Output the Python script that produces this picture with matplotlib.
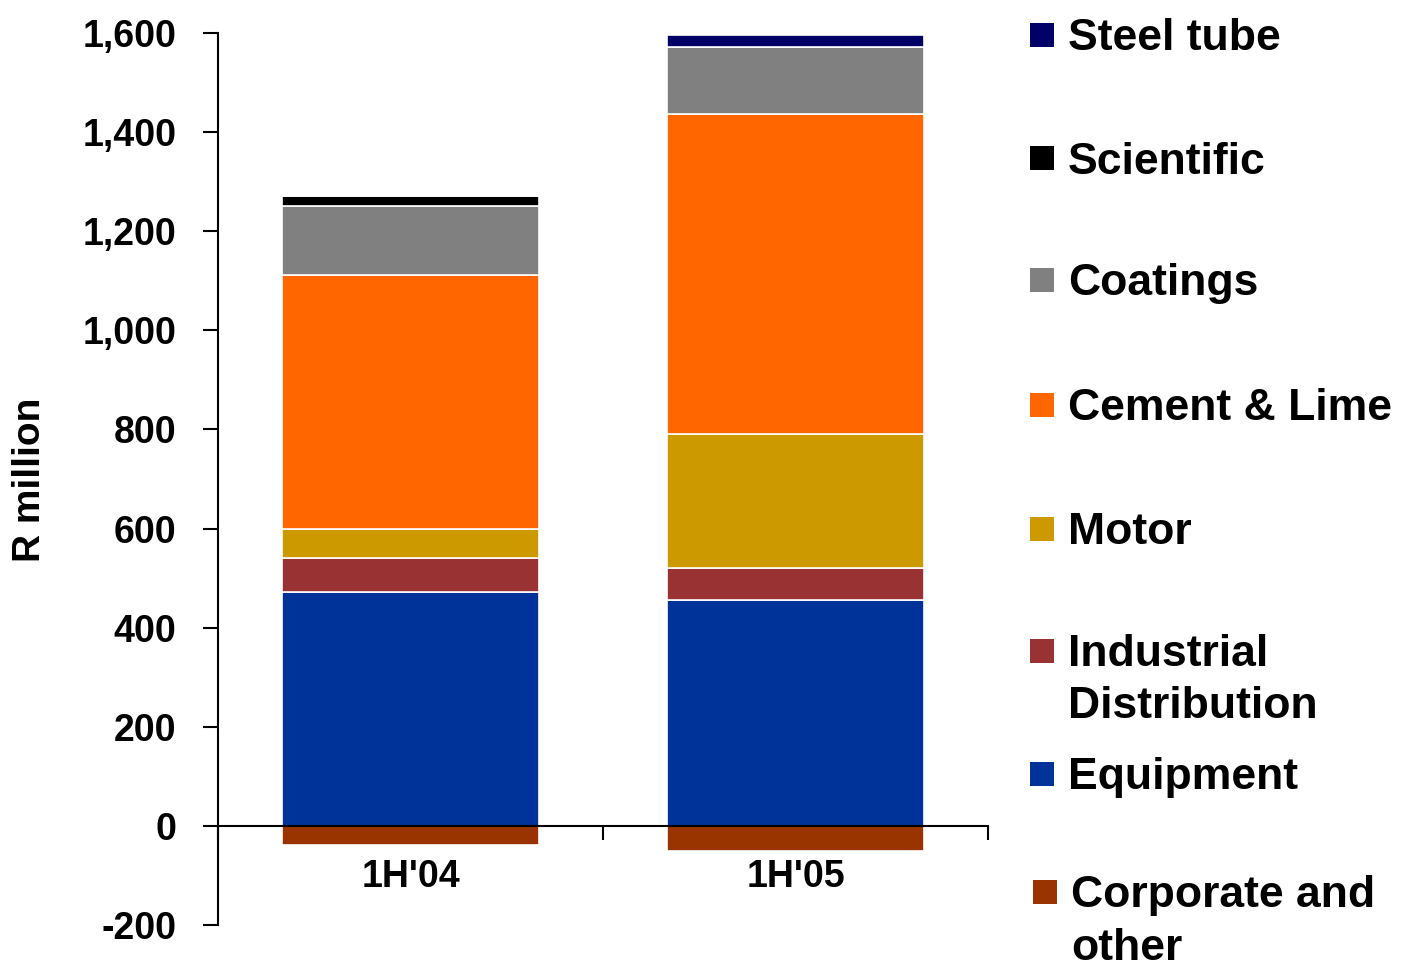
import numpy as np
import matplotlib.pyplot as plt
from matplotlib.patches import Rectangle
from matplotlib.ticker import FuncFormatter

plt.rcParams['font.family'] = ['Liberation Sans', 'DejaVu Sans']
plt.rcParams['font.weight'] = 'bold'

# Data (R million)
periods = ["1H'04", "1H'05"]
equipment = [472, 456]
industrial = [69, 65]
motor = [58, 270]
cement = [513, 646]
coatings = [139, 135]
scientific = [20, 0]
steel_tube = [0, 24]
corporate = [-38, -51]

series = [
    ("Equipment", equipment, "#003399"),
    ("Industrial Distribution", industrial, "#993333"),
    ("Motor", motor, "#CC9900"),
    ("Cement & Lime", cement, "#FF6600"),
    ("Coatings", coatings, "#808080"),
    ("Scientific", scientific, "#000000"),
    ("Steel tube", steel_tube, "#000066"),
]
corp_color = "#993300"

W, H = 1416, 961
fig = plt.figure(figsize=(W / 100, H / 100), dpi=100)
ax = fig.add_axes([218 / W, 1 - 925 / H, (988 - 218) / W, (925 - 33) / H])

x = np.arange(len(periods))
width = 0.665
bottom = np.zeros(len(periods))
for name, vals, col in series:
    ax.bar(x, vals, width, bottom=bottom, color=col, edgecolor="white", linewidth=1.2)
    bottom += np.array(vals)
ax.bar(x, corporate, width, color=corp_color, edgecolor="white", linewidth=1.2)

ax.set_xlim(-0.5, 1.5)
ax.set_ylim(-200, 1600)
ax.set_yticks(np.arange(-200, 1601, 200))
ax.yaxis.set_major_formatter(FuncFormatter(lambda v, p: f"{int(v):,}"))

for s in ["top", "right"]:
    ax.spines[s].set_visible(False)
ax.spines["bottom"].set_position(("data", 0))
ax.spines["left"].set_linewidth(1.5)
ax.spines["bottom"].set_linewidth(1.5)

ax.set_xticks(x)
ax.set_xticklabels(periods)
ax.set_xticks([-0.5, 0.5, 1.5], minor=True)
ax.tick_params(axis="x", which="major", length=0, pad=24, labelsize=27)
ax.tick_params(axis="x", which="minor", length=10, width=1.5, direction="out")
ax.tick_params(axis="y", length=11, width=1.5, direction="out", pad=19, labelsize=27)

fig.text(30 / W, 1 - 480 / H, "R million", rotation=90, ha="center", va="center", fontsize=28)

# legend drawn by hand, top to bottom
legend_items = [
    (["Steel tube"], "#000066", 35, 1030),
    (["Scientific"], "#000000", 158, 1030),
    (["Coatings"], "#808080", 280, 1030),
    (["Cement & Lime"], "#FF6600", 405, 1030),
    (["Motor"], "#CC9900", 529, 1030),
    (["Industrial", "Distribution"], "#993333", 651, 1030),
    (["Equipment"], "#003399", 774, 1030),
    (["Corporate and", "other"], corp_color, 892, 1033),
]
sq = 24
for lines, col, yc, xs in legend_items:
    fig.patches.append(Rectangle((xs / W, 1 - (yc + sq / 2) / H), sq / W, sq / H,
                                 transform=fig.transFigure, facecolor=col, edgecolor="none"))
    for i, line in enumerate(lines):
        fig.text((xs + 38) / W, 1 - (yc + 15.5 + 52 * i) / H, line,
                 ha="left", va="baseline", fontsize=32)

fig.savefig("out.png", dpi=100)
